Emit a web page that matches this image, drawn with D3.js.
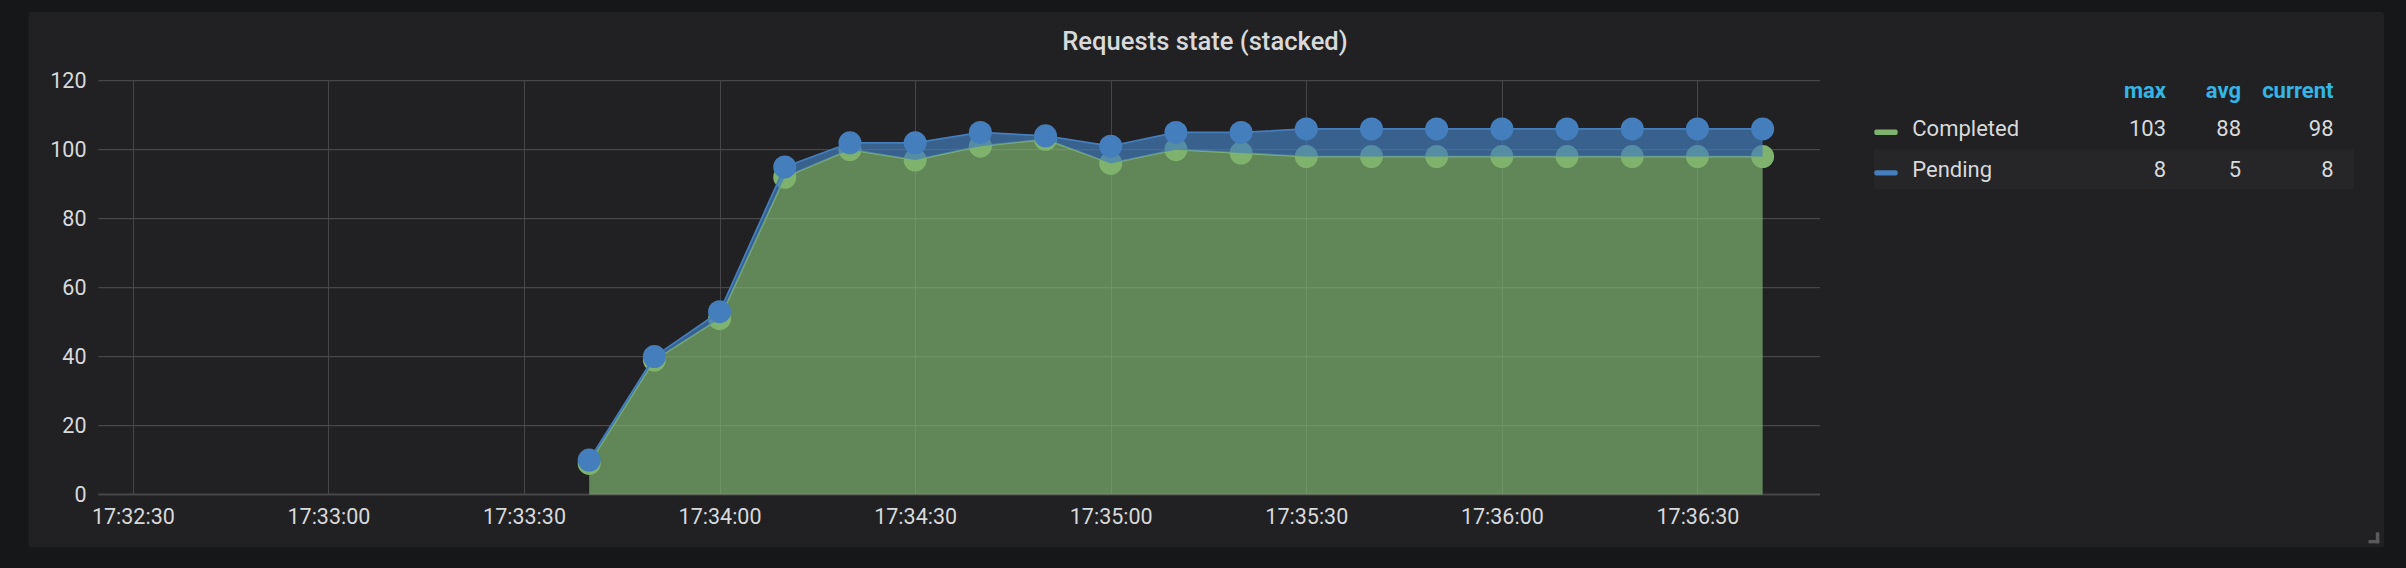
<!DOCTYPE html>
<html><head><meta charset="utf-8">
<script src="https://cdn.jsdelivr.net/npm/d3@7"></script>
<style>
html,body{margin:0;padding:0;background:#161719;}
svg{display:block;}
text{font-family:Roboto,"Noto Sans",sans-serif;}
</style></head><body>
<svg id="chart" width="2406" height="568"></svg>
<script>
// ---------------- data ----------------
const title = "Requests state (stacked)";
const times = ["17:33:40","17:33:50","17:34:00","17:34:10","17:34:20","17:34:30","17:34:40","17:34:50",
  "17:35:00","17:35:10","17:35:20","17:35:30","17:35:40","17:35:50","17:36:00","17:36:10","17:36:20","17:36:30","17:36:40"];
const completed = [9,39,51,92,100,97,101,103,96,100,99,98,98,98,98,98,98,98,98];
const pending   = [1,1,2,3,2,5,4,1,5,5,6,8,8,8,8,8,8,8,8];
const seriesNames = ["Completed","Pending"];
const seriesColors = ["#7EB26D","#447EBC"];
const xTickLabels = ["17:32:30","17:33:00","17:33:30","17:34:00","17:34:30","17:35:00","17:35:30","17:36:00","17:36:30"];
const yTickValues = [0,20,40,60,80,100,120];
const xDomainLabels = ["17:32:24.700","17:36:48.800"];
const legendColumns = ["max","avg","current"];

// ---------------- layout ----------------
const panel = {x:28.5, y:12, w:2355.5, h:535.5};
const plot = {left:98.3, right:1820, top:80.7, bottom:494.5};
const textColor = "#d8d9da";
const gridColor = "#47474a";

const parseT = d3.timeParse("%H:%M:%S");
const parseTms = d3.timeParse("%H:%M:%S.%L");

const svg = d3.select("#chart");
svg.append("rect").attr("width",2406).attr("height",568).attr("fill","#161719");
svg.append("rect").attr("x",panel.x).attr("y",panel.y).attr("width",panel.w).attr("height",panel.h)
  .attr("rx",3).attr("fill","#212124");

svg.append("text").attr("x",1205).attr("y",50).attr("text-anchor","middle")
  .attr("font-size",25.6).attr("font-weight",500).attr("fill",textColor).text(title);

const x = d3.scaleTime().domain(xDomainLabels.map(parseTms)).range([plot.left, plot.right]);
const y = d3.scaleLinear().domain([0,120]).range([plot.bottom, plot.top]);

const xTicks = xTickLabels.map(parseT);

// grid
const grid = svg.append("g");
grid.selectAll("line.v").data(xTicks).join("line").attr("class","v")
  .attr("x1",d=>Math.round(x(d))+0.5).attr("x2",d=>Math.round(x(d))+0.5)
  .attr("y1",y(120)).attr("y2",y(0)).attr("stroke",gridColor).attr("stroke-width",1);
grid.selectAll("line.h").data(yTickValues).join("line").attr("class","h")
  .attr("x1",plot.left).attr("x2",plot.right)
  .attr("y1",d=>y(d)).attr("y2",d=>y(d)).attr("stroke",gridColor).attr("stroke-width",d=>d===0?2:1.2);

// axes labels
const xAxis = d3.axisBottom(x).tickValues(xTicks).tickFormat(d3.timeFormat("%H:%M:%S")).tickSize(0).tickPadding(14);
const gx = svg.append("g").attr("transform",`translate(0,${plot.bottom})`).call(xAxis);
gx.select(".domain").remove();
gx.selectAll("text").attr("font-size",21.5).attr("fill",textColor).attr("font-family","Roboto");

const yAxis = d3.axisLeft(y).tickValues(yTickValues).tickSize(0).tickPadding(11.8);
const gy = svg.append("g").attr("transform",`translate(${plot.left},0)`).call(yAxis);
gy.select(".domain").remove();
gy.selectAll("text").attr("font-size",21.5).attr("fill",textColor).attr("font-family","Roboto");

// data
const rows = times.map((t,i)=>({t:parseT(t), Completed:completed[i], Pending:pending[i]}));
const layers = d3.stack().keys(seriesNames)(rows);

const area = d3.area().x(d=>x(d.data.t)).y0(d=>y(d[0])).y1(d=>y(d[1]));
const line = d3.line().x(d=>x(d.data.t)).y(d=>y(d[1]));

layers.forEach((layer,i)=>{
  const g = svg.append("g");
  g.append("path").datum(layer).attr("d",area).attr("fill",seriesColors[i]).attr("fill-opacity",0.7);
  g.append("path").datum(layer).attr("d",line).attr("fill","none").attr("stroke",seriesColors[i]).attr("stroke-width",1.75);
  g.selectAll("circle").data(layer).join("circle")
    .attr("cx",d=>x(d.data.t)).attr("cy",d=>y(d[1])).attr("r",11.5).attr("fill",seriesColors[i]);
});

// legend
const legend = svg.append("g");
const colRight = [2166, 2241, 2333.5];
legendColumns.forEach((c,j)=>{
  legend.append("text").attr("x",colRight[j]).attr("y",98).attr("text-anchor","end")
    .attr("font-size",22).attr("font-weight",700).attr("fill","#33b5e5").text(c);
});
const seriesData = [completed, pending];
const rowBase = [136, 176.7];
legend.append("rect").attr("x",1874).attr("y",149.3).attr("width",480).attr("height",40)
  .attr("fill","#262628");
seriesNames.forEach((name,i)=>{
  const vals = seriesData[i];
  const stats = [d3.max(vals), Math.round(d3.mean(vals)), vals[vals.length-1]];
  legend.append("rect").attr("x",1874.3).attr("y",rowBase[i]-6.5).attr("width",23.4).attr("height",5.4)
    .attr("rx",2).attr("fill",seriesColors[i]);
  legend.append("text").attr("x",1912.3).attr("y",rowBase[i]).attr("font-size",22)
    .attr("fill",textColor).text(name);
  stats.forEach((v,j)=>{
    legend.append("text").attr("x",colRight[j]).attr("y",rowBase[i]).attr("text-anchor","end")
      .attr("font-size",22).attr("fill",textColor).text(v);
  });
});

// resize handle
svg.append("rect").attr("x",2375.8).attr("y",532.3).attr("width",3.5).attr("height",11).attr("fill","#5a5a5c");
svg.append("rect").attr("x",2368.5).attr("y",540).attr("width",10.8).attr("height",3.3).attr("fill","#5a5a5c");
</script>
</body></html>
